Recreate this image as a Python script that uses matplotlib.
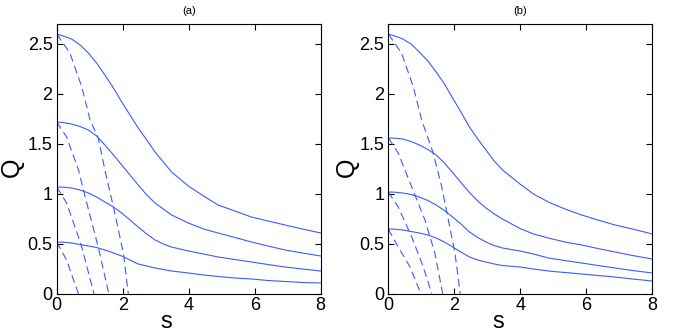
import matplotlib
matplotlib.use("Agg")
import matplotlib.pyplot as plt

plt.rcParams['font.family'] = ['Liberation Sans', 'DejaVu Sans']

# ---------------- panel (a) ----------------
xa = [0, 0.2, 0.45, 0.71, 0.96, 1.21, 1.46, 1.72, 1.97, 2.22, 2.47, 2.73,
      2.98, 3.23, 3.48, 3.99, 4.45, 4.89, 5.4, 5.9, 6.4, 6.92, 7.45, 8.0]
a_q1 = [2.60, 2.58, 2.55, 2.49, 2.41, 2.31, 2.19, 2.06, 1.92, 1.79, 1.66, 1.54,
        1.42, 1.32, 1.22, 1.08, 0.98, 0.89, 0.83, 0.77, 0.73, 0.69, 0.65, 0.61]
a_q2 = [1.72, 1.715, 1.70, 1.675, 1.64, 1.58, 1.49, 1.39, 1.29, 1.19, 1.09, 0.99,
        0.91, 0.85, 0.79, 0.71, 0.65, 0.61, 0.565, 0.52, 0.48, 0.44, 0.41, 0.38]
a_q3 = [1.07, 1.068, 1.06, 1.04, 1.01, 0.97, 0.92, 0.87, 0.81, 0.74, 0.67, 0.60,
        0.54, 0.50, 0.47, 0.43, 0.40, 0.37, 0.345, 0.32, 0.295, 0.27, 0.25, 0.23]
a_q4 = [0.52, 0.518, 0.51, 0.495, 0.48, 0.465, 0.44, 0.41, 0.38, 0.34, 0.30, 0.28,
        0.26, 0.245, 0.23, 0.21, 0.19, 0.175, 0.16, 0.15, 0.135, 0.125, 0.115, 0.11]

a_d1_s = [0, 0.40, 0.76, 1.01, 1.26, 1.46, 1.72, 2.02, 2.17]
a_d1_q = [2.60, 2.41, 2.07, 1.74, 1.56, 1.24, 0.87, 0.41, 0.0]
a_d2_s = [0, 0.30, 0.66, 0.91, 1.26, 1.58]
a_d2_q = [1.72, 1.57, 1.24, 0.91, 0.47, 0.0]
a_d3_s = [0, 0.30, 0.66, 0.76, 1.13]
a_d3_q = [1.07, 0.91, 0.57, 0.47, 0.0]
a_d4_s = [0, 0.30, 0.66]
a_d4_q = [0.52, 0.34, 0.0]

# ---------------- panel (b) ----------------
xb = [0, 0.2, 0.44, 0.69, 0.94, 1.2, 1.45, 1.7, 1.95, 2.2, 2.46, 2.71,
      2.96, 3.21, 3.46, 3.99, 4.4, 4.85, 5.35, 5.86, 6.35, 6.87, 7.4, 8.0]
b_q1 = [2.60, 2.58, 2.55, 2.50, 2.42, 2.33, 2.22, 2.10, 1.96, 1.82, 1.67, 1.55,
        1.44, 1.33, 1.24, 1.10, 1.00, 0.92, 0.85, 0.79, 0.74, 0.69, 0.65, 0.60]
b_q2 = [1.56, 1.558, 1.55, 1.525, 1.49, 1.445, 1.39, 1.31, 1.215, 1.115, 1.015, 0.93,
        0.86, 0.80, 0.75, 0.655, 0.60, 0.56, 0.52, 0.49, 0.455, 0.42, 0.385, 0.35]
b_q3 = [1.02, 1.018, 1.01, 0.995, 0.97, 0.935, 0.89, 0.835, 0.77, 0.70, 0.62, 0.565,
        0.52, 0.485, 0.46, 0.43, 0.40, 0.36, 0.335, 0.31, 0.285, 0.26, 0.235, 0.21]
b_q4 = [0.65, 0.648, 0.64, 0.625, 0.61, 0.59, 0.56, 0.52, 0.47, 0.42, 0.37, 0.34,
        0.32, 0.30, 0.285, 0.27, 0.25, 0.23, 0.215, 0.20, 0.185, 0.17, 0.15, 0.13]

b_d1_s = [0, 0.40, 0.76, 1.01, 1.36, 1.62, 1.82, 2.02, 2.18]
b_d1_q = [2.60, 2.41, 2.07, 1.74, 1.41, 1.07, 0.74, 0.41, 0.0]
b_d2_s = [0, 0.30, 0.71, 1.11, 1.41, 1.65]
b_d2_q = [1.56, 1.41, 1.07, 0.74, 0.41, 0.0]
b_d3_s = [0, 0.30, 0.71, 1.06, 1.32]
b_d3_q = [1.02, 0.87, 0.57, 0.27, 0.0]
b_d4_s = [0, 0.30, 0.66, 0.99]
b_d4_q = [0.65, 0.47, 0.27, 0.0]

xticks = [0, 2, 4, 6, 8]
yticks = [0, 0.5, 1, 1.5, 2, 2.5]
ytick_labels = ['0', '0.5', '1', '1.5', '2', '2.5']

color = '#3a5cff'

W, H = 675, 332
fig = plt.figure(figsize=(W / 100, H / 100), dpi=100)

panels = [
    ('(a)', 56.7, xa, [a_q1, a_q2, a_q3, a_q4],
     [(a_d1_s, a_d1_q), (a_d2_s, a_d2_q), (a_d3_s, a_d3_q), (a_d4_s, a_d4_q)], 12),
    ('(b)', 388.3, xb, [b_q1, b_q2, b_q3, b_q4],
     [(b_d1_s, b_d1_q), (b_d2_s, b_d2_q), (b_d3_s, b_d3_q), (b_d4_s, b_d4_q)], 347),
]

for title, left, xs, curves, dashes, qx in panels:
    ax = fig.add_axes([left / W, (H - 294) / H, 264 / W, 270 / H])
    for q in curves:
        ax.plot(xs, q, color=color, lw=0.8)
    for s, q in dashes:
        ax.plot(s, q, color=color, lw=0.8, ls=(0, (7, 4)))
    ax.set_xlim(0, 8)
    ax.set_ylim(0, 2.7)
    ax.set_xticks(xticks)
    ax.set_yticks(yticks)
    ax.set_yticklabels(ytick_labels)
    ax.tick_params(direction='in', top=True, right=True, length=4, width=0.8,
                   labelsize=13, pad=3)
    ax.tick_params(axis='x', pad=2)
    for sp in ax.spines.values():
        sp.set_linewidth(0.8)
    ax.set_title(title, fontsize=8, pad=7)
    ax.set_xlabel('s', fontsize=17)
    ax.xaxis.label.set_va('baseline')
    ax.xaxis.set_label_coords(0.415, (294 - 328) / 270)
    ax.set_ylabel('Q', fontsize=18)
    ax.yaxis.label.set_va('center')
    ax.yaxis.set_label_coords((qx - left) / 264, 0.47)

fig.savefig('out.png', dpi=100)
